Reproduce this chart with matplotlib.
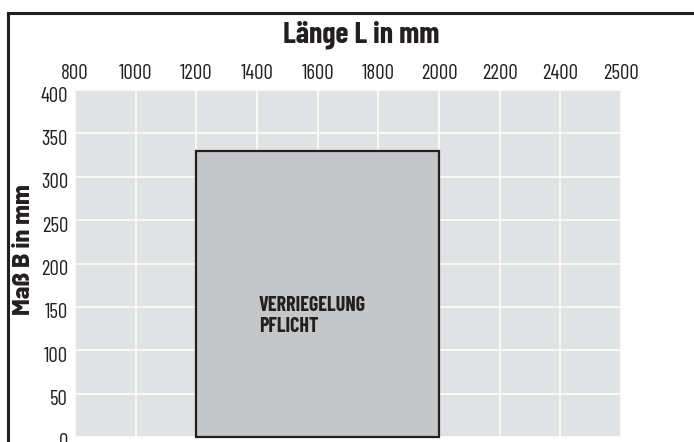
import matplotlib
matplotlib.use("Agg")
import matplotlib.pyplot as plt
from matplotlib.patches import Rectangle
from matplotlib.lines import Line2D
from matplotlib.transforms import ScaledTranslation
from matplotlib import font_manager

# ---- data ----
length_labels = ["800", "1000", "1200", "1400", "1600", "1800", "2000", "2200", "2400", "2500"]
width_ticks = [0, 50, 100, 150, 200, 250, 300, 350, 400]
zone_length_from = "1200"
zone_length_to = "2000"
zone_width_max = 330
zone_label = "VERRIEGELUNG\nPFLICHT"
title = "Länge L in mm"
ylabel = "Maß B in mm"

names = {f.name for f in font_manager.fontManager.ttflist}
prefs = ["Barlow Condensed", "Roboto Condensed", "Archivo Narrow", "PT Sans Narrow",
         "Sofia Sans Condensed", "Saira Condensed"]
chosen = next((p for p in prefs if p in names), "Roboto")
wide = next((p for p in ["Barlow", "Barlow Semi Condensed", "Roboto"] if p in names), "DejaVu Sans")
plt.rcParams["font.family"] = [chosen, "DejaVu Sans"]

ink = "#231f20"
W, H = 694, 442
fig = plt.figure(figsize=(W / 100, H / 100), dpi=100)
ax = fig.add_axes([75 / W, 1 - 437 / H, (621 - 75) / W, (437 - 90) / H])
ax.set_facecolor("#e1e2e4")

xpos = list(range(len(length_labels)))
ax.set_xlim(xpos[0], xpos[-1])
ax.set_ylim(0, 400)

ax.set_xticks(xpos)
ax.set_xticklabels(length_labels, fontsize=15, color=ink)
ax.xaxis.tick_top()
ax.set_yticks(width_ticks)
ax.set_yticklabels([str(v) for v in width_ticks], fontsize=15, color=ink)
ax.tick_params(length=0)
ax.tick_params(axis="y", pad=5)
ax.tick_params(axis="x", pad=5)
ax.grid(True, color="white", linewidth=1.1)
ax.set_axisbelow(True)
for s in ax.spines.values():
    s.set_visible(False)

down = ScaledTranslation(0, -4 / 100, fig.dpi_scale_trans)
for lab in ax.get_yticklabels():
    lab.set_transform(lab.get_transform() + down)

x0 = length_labels.index(zone_length_from)
x1 = length_labels.index(zone_length_to)
ax.add_patch(Rectangle((x0, 0), x1 - x0, zone_width_max, facecolor="#c5c6c8",
                       edgecolor=ink, linewidth=1.6, zorder=3, clip_on=False))
ax.text(x0 + 1.03, 163, zone_label, fontsize=14.5, fontweight="bold", color=ink,
        ha="left", va="top", linespacing=1.15, zorder=4)

fig.text(361 / W, 1 - 35 / H, title, fontsize=21.5, fontweight="bold", color=ink,
         ha="center", va="center")
fig.text(24 / W, 1 - 250 / H, ylabel, fontsize=17, fontweight="heavy", color=ink,
         ha="center", va="center", rotation=90, family=[wide, "DejaVu Sans"])

# outer frame (top and left visible)
fig.add_artist(Line2D([8 / W, 1.0], [1 - 13 / H, 1 - 13 / H], color=ink, linewidth=2.2,
                      transform=fig.transFigure))
fig.add_artist(Line2D([8 / W, 8 / W], [0.0, 1 - 13 / H], color=ink, linewidth=2.2,
                      transform=fig.transFigure))

fig.savefig("out.png", dpi=100)
